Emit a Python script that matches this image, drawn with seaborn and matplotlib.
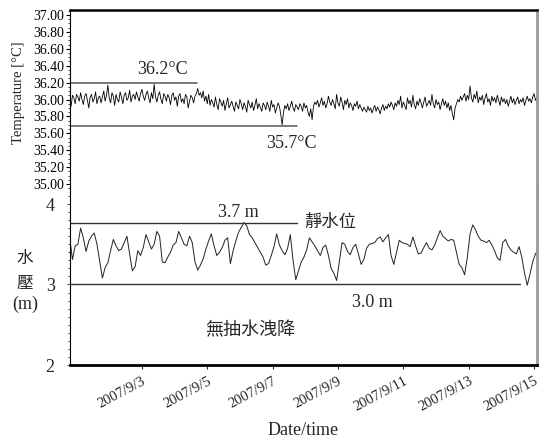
import matplotlib
matplotlib.use('Agg')
import matplotlib.pyplot as plt
from matplotlib.ticker import MultipleLocator, FixedLocator
import numpy as np
import pandas as pd
import seaborn as sns

# ---------------- data ----------------
start_time = '2007-08-31 19:00'

# hourly water temperature [°C]
temperature = [
    36.00, 35.92, 36.05, 36.02, 35.95, 36.06, 36.03, 35.98, 36.08, 36.00, 35.94, 36.04, 36.07, 35.99, 35.90, 36.03, 36.06, 35.97, 36.01, 36.09, 35.95, 36.02, 36.04, 35.96,
    36.03, 36.10, 35.98, 36.05, 36.17, 36.02, 35.96, 36.08, 36.04, 35.93, 36.06, 36.00, 35.97, 36.09, 36.03, 35.95, 36.05, 36.08, 35.99, 36.02, 36.11, 35.97, 36.04, 36.06,
    36.00, 36.09, 36.03, 35.98, 36.07, 36.12, 36.04, 35.99, 36.06, 36.10, 36.02, 35.96, 36.08, 36.01, 36.18, 36.03, 35.97, 36.05, 36.09, 36.00, 35.95, 36.07, 36.04, 35.98,
    36.06, 36.02, 35.94, 36.05, 36.08, 35.99, 36.03, 35.92, 36.04, 36.07, 35.97, 36.01, 35.95, 36.06, 36.03, 35.90, 35.98, 36.05, 36.02, 35.96, 36.04, 36.07, 36.13, 36.05,
    36.08, 36.02, 36.10, 35.98, 36.04, 35.95, 36.06, 35.93, 36.00, 35.96, 35.91, 36.03, 35.94, 35.88, 36.01, 35.97, 35.92, 35.99, 35.87, 35.95, 36.02, 35.90, 35.94, 35.98,
    35.92, 35.86, 35.97, 35.93, 35.89, 36.00, 35.95, 35.88, 35.96, 35.92, 35.85, 35.99, 35.94, 35.90, 35.97, 35.87, 35.93, 36.01, 35.89, 35.95, 35.91, 35.86, 35.96, 35.93,
    35.88, 35.97, 35.92, 35.86, 35.99, 35.91, 35.94, 35.84, 35.90, 35.96, 35.92, 35.82, 35.70, 35.85, 35.93, 35.89, 35.95, 35.87, 35.92, 35.98, 35.90, 35.86, 35.94, 35.91,
    35.88, 35.95, 35.92, 35.86, 35.96, 35.90, 35.93, 35.85, 35.80, 35.89, 35.76, 35.92, 35.97, 35.94, 35.99, 35.91, 35.96, 36.02, 35.93, 35.98, 35.90, 35.95, 36.04, 35.97,
    35.93, 36.00, 35.95, 35.89, 36.06, 35.96, 35.92, 36.03, 35.97, 35.88, 35.99, 35.94, 36.01, 35.90, 35.96, 35.93, 35.87, 35.95, 35.92, 35.98, 35.89, 35.94, 35.90, 35.86,
    35.91, 35.88, 35.85, 35.92, 35.87, 35.90, 35.84, 35.89, 35.93, 35.86, 35.91, 35.88, 35.83, 35.90, 35.94, 35.87, 35.92, 35.89, 35.95, 35.91, 35.97, 35.93, 35.88, 35.96,
    35.92, 35.99, 35.94, 36.04, 35.90, 35.97, 35.93, 35.88, 36.02, 35.95, 35.99, 35.91, 36.05, 35.94, 35.89, 35.98, 35.93, 36.01, 35.96, 35.90, 35.97, 36.03, 35.92, 35.95,
    35.99, 35.93, 36.06, 35.95, 35.90, 36.00, 35.94, 35.97, 35.88, 35.95, 36.01, 35.93, 35.98, 35.90, 35.96, 35.87, 35.93, 35.83, 35.76, 35.90, 35.95, 36.00, 35.97, 36.04,
    35.99, 36.03, 36.07, 35.98, 36.05, 36.00, 36.16, 36.02, 35.97, 36.06, 36.01, 36.10, 35.96, 36.03, 35.99, 36.05, 35.94, 36.02, 36.07, 35.97, 36.01, 35.93, 36.04, 35.98,
    36.02, 35.96, 36.05, 35.99, 35.93, 36.03, 35.97, 36.01, 35.95, 36.00, 35.92, 35.98, 36.04, 35.96, 36.01, 35.94, 35.99, 36.03, 35.95, 36.00, 35.97, 36.02, 35.93, 35.99,
    36.04, 35.98, 36.01, 35.96, 36.03, 36.07, 35.99, 36.02, 36.00,
]

# 2-hourly water pressure head [m]
pressure = [
    3.58, 3.31, 3.48, 3.50, 3.70, 3.58, 3.41, 3.54, 3.60, 3.64, 3.50, 3.29, 3.08, 3.21, 3.27, 3.42, 3.56, 3.48, 3.42, 3.44,
    3.52, 3.60, 3.38, 3.17, 3.22, 3.42, 3.36, 3.46, 3.62, 3.53, 3.44, 3.50, 3.66, 3.60, 3.28, 3.27, 3.34, 3.40, 3.49, 3.52,
    3.66, 3.58, 3.50, 3.48, 3.60, 3.52, 3.28, 3.18, 3.24, 3.32, 3.44, 3.54, 3.63, 3.48, 3.36, 3.40, 3.46, 3.55, 3.58, 3.26,
    3.42, 3.54, 3.65, 3.71, 3.77, 3.73, 3.62, 3.58, 3.52, 3.46, 3.40, 3.34, 3.24, 3.26, 3.36, 3.47, 3.63, 3.49, 3.42, 3.37,
    3.45, 3.62, 3.30, 3.06, 3.17, 3.28, 3.34, 3.43, 3.58, 3.53, 3.48, 3.42, 3.36, 3.46, 3.49, 3.36, 3.20, 3.14, 3.05, 3.28,
    3.52, 3.50, 3.41, 3.37, 3.46, 3.50, 3.38, 3.25, 3.31, 3.45, 3.50, 3.51, 3.52, 3.57, 3.59, 3.53, 3.58, 3.62, 3.36, 3.25,
    3.40, 3.55, 3.52, 3.51, 3.50, 3.47, 3.59, 3.48, 3.38, 3.39, 3.46, 3.52, 3.45, 3.43, 3.49, 3.58, 3.67, 3.60, 3.57, 3.54,
    3.56, 3.55, 3.40, 3.25, 3.21, 3.12, 3.34, 3.63, 3.74, 3.68, 3.60, 3.55, 3.54, 3.52, 3.55, 3.49, 3.42, 3.33, 3.30, 3.52,
    3.56, 3.48, 3.43, 3.40, 3.38, 3.47, 3.34, 3.14, 2.99, 3.13, 3.28, 3.38, 3.43,
]

temp_ref = [36.2, 35.69]
temp_ref_labels = ['36.2°C', '35.7°C']
press_ref = [3.77, 3.0]
press_ref_labels = ['3.7 m', '3.0 m']
static_label = '靜水位'
drawdown_label = '無抽水洩降'

date_ticks = ['2007-09-03', '2007-09-05', '2007-09-07', '2007-09-09',
              '2007-09-11', '2007-09-13', '2007-09-15']
date_tick_labels = ['2007/9/3', '2007/9/5', '2007/9/7', '2007/9/9',
                    '2007/9/11', '2007/9/13', '2007/9/15']
temp_ticks = [35.0, 35.2, 35.4, 35.6, 35.8, 36.0, 36.2, 36.4, 36.6, 36.8, 37.0]
press_ticks = [2, 3, 4]

temp_df = pd.DataFrame({'time': pd.date_range(start_time, periods=len(temperature), freq='h'),
                        'temperature': temperature})
press_df = pd.DataFrame({'time': pd.date_range(start_time, periods=len(pressure), freq='2h'),
                         'pressure': pressure})

# ---------------- style ----------------
sns.set_theme(style='ticks')
plt.rcParams['font.family'] = ['Liberation Serif', 'Noto Sans CJK TC']
plt.rcParams['axes.unicode_minus'] = False
CJK = ['Noto Sans CJK TC', 'Liberation Serif']

W, H = 539, 440
fig = plt.figure(figsize=(W / 100, H / 100), dpi=100)
left, right, top, mid, bottom = 70, 537, 10, 192, 365
ax1 = fig.add_axes([left / W, 1 - mid / H, (right - left) / W, (mid - top) / H])
ax2 = fig.add_axes([left / W, 1 - bottom / H, (right - left) / W, (bottom - mid) / H], sharex=ax1)

sns.lineplot(data=temp_df, x='time', y='temperature', ax=ax1, color='black', lw=0.6)
sns.lineplot(data=press_df, x='time', y='pressure', ax=ax2, color='#222222', lw=0.7)

xmin = pd.Timestamp('2007-09-03') - pd.Timedelta(days=2.2)
xmax = pd.Timestamp('2007-09-15') + pd.Timedelta(days=0.09)
ax1.set_xlim(xmin, xmax)

# temperature axis
ax1.set_ylim(35 - 8 / 84.5, 37 + 5 / 84.5)
ax1.yaxis.set_major_locator(FixedLocator(temp_ticks))
ax1.yaxis.set_minor_locator(MultipleLocator(0.05))
ax1.set_yticklabels([f'{t:.2f}' for t in temp_ticks], fontsize=10)
ax1.tick_params(axis='y', which='major', direction='out', length=3, width=0.8, pad=1, colors='black')
ax1.tick_params(axis='y', which='minor', direction='out', length=1.5, width=0.6)
ax1.tick_params(axis='x', which='both', bottom=False, labelbottom=False)
ax1.set_xlabel('')
ax1.set_ylabel('')

# pressure axis
ax2.set_ylim(2, 4 + 12 / 80.5)
ax2.yaxis.set_major_locator(FixedLocator(press_ticks))
ax2.yaxis.set_minor_locator(MultipleLocator(0.1))
ax2.set_yticklabels([str(t) for t in press_ticks], fontsize=13)
ax2.tick_params(axis='y', which='major', direction='out', length=2, width=0.6, pad=9)
ax2.tick_params(axis='y', which='minor', direction='out', length=1.5, width=0.6)
ax2.set_xticks(pd.to_datetime(date_ticks))
ax2.set_xticklabels(date_tick_labels, rotation=28, ha='right', rotation_mode='anchor', fontsize=10.5)
ax2.tick_params(axis='x', which='major', direction='out', length=3, width=0.8, pad=4)
ax2.tick_params(axis='x', which='minor', bottom=False)
ax2.set_xlabel('Date/time', fontsize=13, labelpad=6)
ax2.set_ylabel('')

# spines
for ax in (ax1, ax2):
    ax.spines['left'].set_color('black')
    ax.spines['left'].set_linewidth(0.8)
    ax.spines['right'].set_visible(True)
    ax.spines['right'].set_color('#999999')
    ax.spines['right'].set_linewidth(2)
ax1.spines['top'].set_visible(True)
ax1.spines['top'].set_color('black')
ax1.spines['top'].set_linewidth(1.8)
ax1.spines['bottom'].set_visible(False)
ax2.spines['top'].set_visible(False)
ax2.spines['bottom'].set_color('black')
ax2.spines['bottom'].set_linewidth(2)

# reference lines
ax1.axhline(temp_ref[0], xmin=0, xmax=0.272, color='#555555', lw=1.1)
ax1.axhline(temp_ref[1], xmin=0, xmax=0.486, color='#555555', lw=1.1)
ax2.axhline(press_ref[0], xmin=0, xmax=0.486, color='#333333', lw=1.0)
ax2.axhline(press_ref[1], xmin=0, xmax=0.964, color='#333333', lw=1.0)

# annotations
ax1.text(0.199, 36.35, temp_ref_labels[0], transform=ax1.get_yaxis_transform(),
         ha='center', va='center', fontsize=13)
ax1.text(0.475, 35.485, temp_ref_labels[1], transform=ax1.get_yaxis_transform(),
         ha='center', va='center', fontsize=13)
ax2.text(0.36, 3.89, press_ref_labels[0], transform=ax2.get_yaxis_transform(),
         ha='center', va='center', fontsize=13)
ax2.text(0.647, 2.78, press_ref_labels[1], transform=ax2.get_yaxis_transform(),
         ha='center', va='center', fontsize=13)
ax2.text(0.557, 3.78, static_label, transform=ax2.get_yaxis_transform(),
         ha='center', va='center', fontsize=12.5, family=CJK)
ax2.text(0.385, 2.43, drawdown_label, transform=ax2.get_yaxis_transform(),
         ha='center', va='center', fontsize=13, family=CJK)

# axis titles
fig.text(19 / W, 1 - 93 / H, 'Temperature [°C]', rotation=90, ha='center', va='center', fontsize=10.5)
fig.text(25 / W, 1 - 258 / H, '水', ha='center', va='center', fontsize=12, family=CJK)
fig.text(25 / W, 1 - 283 / H, '壓', ha='center', va='center', fontsize=12, family=CJK)
fig.text(25 / W, 1 - 304 / H, '(m)', ha='center', va='center', fontsize=13)

fig.savefig('out.png', dpi=100)
